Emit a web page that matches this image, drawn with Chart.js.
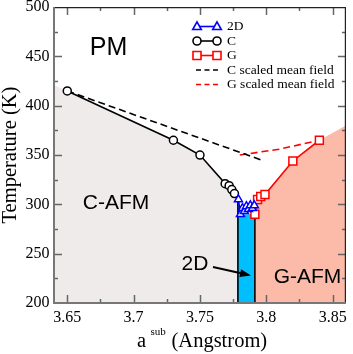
<!DOCTYPE html>
<html>
<head>
<meta charset="utf-8">
<script src="https://cdn.jsdelivr.net/npm/chart.js@4.4.1/dist/chart.umd.min.js"></script>
<style>
  html, body { margin: 0; padding: 0; background: #fff; }
  #wrap { position: relative; width: 353px; height: 354px; }
</style>
</head>
<body>
<div id="wrap"><canvas id="phaseChart" width="353" height="354"></canvas></div>
<script>
// --- data ---
const xTicks = [3.65, 3.7, 3.75, 3.8, 3.85];
const xTickLabels = ["3.65", "3.7", "3.75", "3.8", "3.85"];
const xMinor = [3.675, 3.725, 3.775, 3.825];
const yTicks = [200, 250, 300, 350, 400, 450, 500];
const yTickLabels = ["200", "250", "300", "350", "400", "450", "500"];
const yMinor = [225, 275, 325, 375, 425, 475];

// C (circles)
const cA = [3.65, 3.73, 3.75, 3.769, 3.772, 3.774, 3.776];
const cT = [415, 365, 350, 321, 319, 315, 311];
// 2D (triangles)
const d2A = [3.779, 3.7805, 3.782, 3.7835, 3.785, 3.7865, 3.788, 3.7895, 3.791];
const d2T = [305, 290, 296, 293, 298, 295, 299, 296, 299];
// G (squares)
const gA = [3.7914, 3.7934, 3.7958, 3.799, 3.82, 3.84];
const gT = [290, 305, 308, 310, 344, 365];
// scaled mean field curves
const cMfA = [3.65, 3.7963];
const cMfT = [415, 345];
const gMfA = [3.78, 3.81, 3.84];
const gMfT = [350, 356, 365];

// phase region boundaries
const cAfmA = [3.64, 3.65, 3.73, 3.75, 3.769, 3.772, 3.774, 3.776, 3.7786];
const cAfmT = [421, 415, 365, 350, 321, 319, 315, 311, 304];
const d2RegA = [3.7786, 3.7805, 3.7914];
const d2RegT = [304, 290, 290];
const gAfmA = [3.7914, 3.7934, 3.7958, 3.799, 3.82, 3.84, 3.86];
const gAfmT = [290, 305, 308, 310, 344, 365, 380];
const leftWallA = [3.776, 3.7786, 3.7786];
const leftWallT = [311, 304, 200];
const rightWallA = [3.7914, 3.7914];
const rightWallT = [290, 200];

const pts = (xs, ys) => xs.map((x, i) => ({ x: x, y: ys[i] }));

const SERIF = "'Liberation Serif', 'Times New Roman', serif";
const SANS = "'Liberation Sans', Arial, sans-serif";
Chart.defaults.font.family = SERIF;

function fillSet(xs, ys, color) {
  return {
    data: pts(xs, ys), showLine: true, borderWidth: 0, borderColor: "rgba(0,0,0,0)",
    pointRadius: 0, backgroundColor: color, fill: "start", order: 10
  };
}
function lineSet(xs, ys, color, extra) {
  return Object.assign({
    data: pts(xs, ys), showLine: true, borderColor: color, borderWidth: 1.6,
    pointRadius: 0, fill: false, order: 5
  }, extra || {});
}

// inward ticks, frame, titles, annotations, legend
const decor = {
  id: "decor",
  afterDatasetsDraw(chart) {
    const ctx = chart.ctx;
    const a = chart.chartArea;
    const xs = chart.scales.x, ys = chart.scales.y;
    ctx.save();

    // region labels
    ctx.fillStyle = "#000";
    ctx.textAlign = "center";
    ctx.textBaseline = "middle";
    ctx.font = "25px " + SANS;
    ctx.fillText("PM", 108.5, 48);
    ctx.font = "21px " + SANS;
    ctx.fillText("C-AFM", 116, 203);
    ctx.fillText("G-AFM", 307.5, 277.5);
    ctx.fillText("2D", 195, 264);

    // arrow pointing at the 2D strip
    const x1 = 213, y1 = 267, x2 = 251, y2 = 275.5;
    const ang = Math.atan2(y2 - y1, x2 - x1);
    ctx.strokeStyle = "#000";
    ctx.lineWidth = 2;
    ctx.beginPath();
    ctx.moveTo(x1, y1);
    ctx.lineTo(x2 - 8 * Math.cos(ang), y2 - 8 * Math.sin(ang));
    ctx.stroke();
    ctx.beginPath();
    ctx.moveTo(x2, y2);
    ctx.lineTo(x2 - 11 * Math.cos(ang) + 4 * Math.sin(ang), y2 - 11 * Math.sin(ang) - 4 * Math.cos(ang));
    ctx.lineTo(x2 - 11 * Math.cos(ang) - 4 * Math.sin(ang), y2 - 11 * Math.sin(ang) + 4 * Math.cos(ang));
    ctx.closePath();
    ctx.fill();

    // ticks (inward, all four sides)
    ctx.strokeStyle = "#666";
    ctx.lineWidth = 1.5;
    ctx.beginPath();
    const tx = (v, len) => {
      const p = Math.round(xs.getPixelForValue(v)) + 0.5;
      ctx.moveTo(p, a.bottom); ctx.lineTo(p, a.bottom - len);
      ctx.moveTo(p, a.top); ctx.lineTo(p, a.top + len);
    };
    const ty = (v, len) => {
      const p = Math.round(ys.getPixelForValue(v)) + 0.5;
      ctx.moveTo(a.left, p); ctx.lineTo(a.left + len, p);
      ctx.moveTo(a.right, p); ctx.lineTo(a.right - len, p);
    };
    xTicks.forEach(v => tx(v, 8));
    xMinor.forEach(v => tx(v, 4));
    yTicks.slice(1, -1).forEach(v => ty(v, 8));
    yMinor.forEach(v => ty(v, 4));
    ctx.stroke();

    // frame
    ctx.strokeStyle = "#222";
    ctx.lineWidth = 1.2;
    ctx.beginPath();
    ctx.moveTo(a.left, a.top + 0.5); ctx.lineTo(a.right - 0.5, a.top + 0.5); ctx.lineTo(a.right - 0.5, a.bottom);
    ctx.stroke();
    ctx.strokeStyle = "#777";
    ctx.lineWidth = 2;
    ctx.beginPath();
    ctx.moveTo(a.left, a.top); ctx.lineTo(a.left, a.bottom); ctx.lineTo(a.right, a.bottom);
    ctx.stroke();

    // axis titles
    ctx.fillStyle = "#000";
    ctx.textBaseline = "alphabetic";
    ctx.textAlign = "left";
    ctx.font = "20.5px " + SERIF;
    ctx.fillText("a", 137, 346.5);
    ctx.font = "11px " + SERIF;
    ctx.fillText("sub", 150.5, 335);
    ctx.font = "20.5px " + SERIF;
    ctx.fillText("(Angstrom)", 171.5, 346.5);

    ctx.save();
    ctx.translate(15.5, (a.top + a.bottom) / 2);
    ctx.rotate(-Math.PI / 2);
    ctx.textAlign = "center";
    ctx.fillText("Temperature (K)", 0, 0);
    ctx.restore();

    // legend
    const rows = [26.5, 41, 55.5, 70, 84.5];
    const lx0 = 197, lx1 = 217, tx0 = 227;
    ctx.lineWidth = 1.6;
    const marker = (kind, x, y, color) => {
      ctx.fillStyle = "#fff";
      ctx.strokeStyle = color;
      ctx.beginPath();
      if (kind === "circle") ctx.arc(x, y, 4, 0, Math.PI * 2);
      else if (kind === "rect") ctx.rect(x - 4, y - 4, 8, 8);
      else { ctx.moveTo(x, y - 4.6); ctx.lineTo(x + 4.3, y + 3); ctx.lineTo(x - 4.3, y + 3); ctx.closePath(); }
      ctx.fill();
      ctx.stroke();
    };
    const entry = (i, kind, color, label, dashed) => {
      const y = rows[i];
      ctx.strokeStyle = color;
      ctx.setLineDash(dashed ? [5, 3.5] : []);
      ctx.beginPath();
      ctx.moveTo(dashed ? lx0 - 1 : lx0, y);
      ctx.lineTo(dashed ? lx1 + 1 : lx1, y);
      ctx.stroke();
      ctx.setLineDash([]);
      if (kind) { marker(kind, lx0, y, color); marker(kind, lx1, y, color); }
      ctx.fillStyle = "#000";
      ctx.font = "13.5px " + SERIF;
      ctx.textBaseline = "middle";
      ctx.textAlign = "left";
      ctx.fillText(label, tx0, y);
    };
    entry(0, "triangle", "#0000ff", "2D", false);
    entry(1, "circle", "#000000", "C", false);
    entry(2, "rect", "#ff0000", "G", false);
    entry(3, null, "#000000", "C scaled mean field", true);
    entry(4, null, "#ff0000", "G scaled mean field", true);

    ctx.restore();
  }
};

new Chart(document.getElementById("phaseChart"), {
  type: "scatter",
  data: {
    datasets: [
      fillSet(cAfmA, cAfmT, "#efebea"),
      fillSet(d2RegA, d2RegT, "#00bfff"),
      fillSet(gAfmA, gAfmT, "#fbbba8"),
      lineSet(leftWallA, leftWallT, "#000", { borderWidth: 1.6 }),
      lineSet(rightWallA, rightWallT, "#000", { borderWidth: 1.6 }),
      lineSet(cMfA, cMfT, "#000", { borderDash: [7, 4], order: 4 }),
      lineSet(gMfA, gMfT, "#ff0000", { borderDash: [7, 4], order: 4 }),
      lineSet(cA, cT, "#000", {
        pointRadius: 4, pointStyle: "circle", pointBackgroundColor: "#fff",
        pointBorderColor: "#000", pointBorderWidth: 1.5, order: 2
      }),
      lineSet(gA, gT, "#ff0000", {
        pointRadius: 5.6, pointStyle: "rect", pointBackgroundColor: "#fff",
        pointBorderColor: "#ff0000", pointBorderWidth: 1.5, order: 2
      }),
      lineSet(d2A, d2T, "#0000ff", {
        pointRadius: 4.6, pointStyle: "triangle", pointBackgroundColor: "#fff",
        pointBorderColor: "#0000ff", pointBorderWidth: 1.5, order: 1
      })
    ]
  },
  options: {
    responsive: false,
    animation: false,
    devicePixelRatio: 1,
    layout: { padding: { top: 6, right: 2, left: 0, bottom: 0 } },
    elements: { line: { tension: 0 } },
    plugins: {
      legend: { display: false },
      tooltip: { enabled: false },
      filler: { propagate: false }
    },
    scales: {
      x: {
        type: "linear", min: 3.64, max: 3.86,
        grid: { display: false, drawTicks: false },
        border: { display: false },
        afterBuildTicks: s => { s.ticks = xTicks.map(v => ({ value: v })); },
        afterFit: s => { s.height = 51; s.paddingLeft = 0; s.paddingRight = 0; },
        ticks: {
          padding: 5, color: "#000", maxRotation: 0, autoSkip: false,
          font: { family: SERIF, size: 16 },
          callback: (v, i) => xTickLabels[i]
        }
      },
      y: {
        type: "linear", min: 200, max: 500,
        grid: { display: false, drawTicks: false },
        border: { display: false },
        afterBuildTicks: s => { s.ticks = yTicks.map(v => ({ value: v })); },
        afterFit: s => { s.width = 54; s.paddingTop = 0; s.paddingBottom = 0; },
        ticks: {
          padding: 4.5, color: "#000", autoSkip: false,
          font: { family: SERIF, size: 16 },
          callback: (v, i) => yTickLabels[i]
        }
      }
    }
  },
  plugins: [decor]
});
</script>
</body>
</html>
